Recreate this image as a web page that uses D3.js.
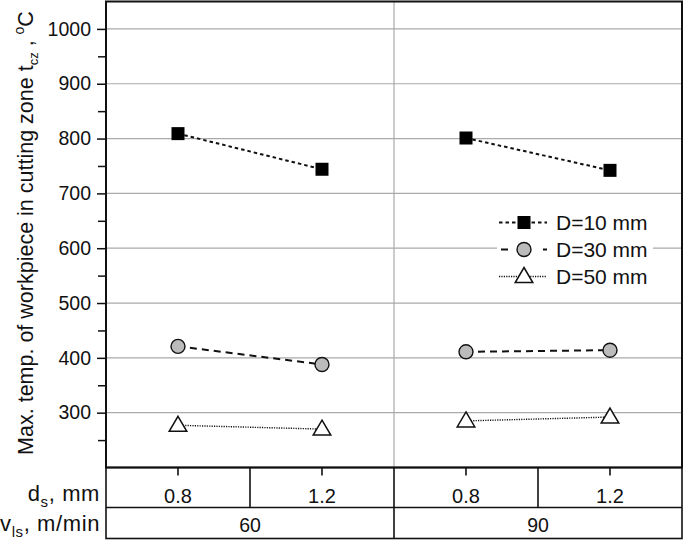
<!DOCTYPE html>
<html><head><meta charset="utf-8">
<script src="https://cdn.jsdelivr.net/npm/d3@7"></script>
<style>body{margin:0;background:#fff}svg{display:block}text{font-family:"Liberation Sans",Arial,sans-serif;fill:#111}</style>
</head><body><svg id="c" width="685" height="544"></svg>
<script>
const categories = ["60|0.8","60|1.2","90|0.8","90|1.2"];
const dsLabels = ["0.8","1.2","0.8","1.2"];
const vlsGroups = ["60","90"];
const seriesNames = ["D=10 mm","D=30 mm","D=50 mm"];
const d10 = [809, 744, 801, 742];
const d30 = [421, 388, 411, 414];
const d50 = [277, 270, 285, 292];
const yTicks = [300,400,500,600,700,800,900,1000];
const yMinor = [250,350,450,550,650,750,850,950];

const svg = d3.select("#c");
const L=106, R=682, T=1.5, B=467.5, R1=507.5, R2=538.5;
const x = d3.scaleBand().domain(categories).range([L,R]).padding(0);
const xc = c => x(c)+x.bandwidth()/2;
const y = d3.scaleLinear().domain([200,1050]).range([B,T]);

// grid
svg.append("g").selectAll("line").data(yTicks).join("line")
  .attr("x1",L).attr("x2",R).attr("y1",d=>y(d)).attr("y2",d=>y(d))
  .attr("stroke","#aaa").attr("stroke-width",1.2);
svg.append("line").attr("x1",x(categories[2])).attr("x2",x(categories[2]))
  .attr("y1",T).attr("y2",B).attr("stroke","#aaa").attr("stroke-width",1.2);

// y axis
const yAxis = d3.axisLeft(y).tickValues(yTicks).tickSize(9).tickPadding(6).tickFormat(d3.format("d"));
const ga = svg.append("g").attr("transform",`translate(${L},0)`).call(yAxis);
ga.select(".domain").remove();
ga.selectAll(".tick line").attr("stroke","#111").attr("stroke-width",1.5);
ga.selectAll(".tick text").attr("font-size",19.5).attr("fill","#111").style("font-family","Liberation Sans, Arial, sans-serif");
const gm = svg.append("g").attr("transform",`translate(${L},0)`).call(d3.axisLeft(y).tickValues(yMinor).tickSize(8).tickFormat(""));
gm.select(".domain").remove();
gm.selectAll(".tick line").attr("stroke","#111").attr("stroke-width",1.5);

// frame
svg.append("rect").attr("x",L).attr("y",T).attr("width",R-L).attr("height",B-T)
  .attr("fill","none").attr("stroke","#111").attr("stroke-width",2);

// table
const tb = svg.append("g").attr("stroke","#111").attr("stroke-width",1.6);
tb.append("rect").attr("x",L).attr("y",B).attr("width",R-L).attr("height",R2-B).attr("fill","none");
tb.append("line").attr("x1",L).attr("x2",R).attr("y1",R1).attr("y2",R1);
tb.append("line").attr("x1",x(categories[2])).attr("x2",x(categories[2])).attr("y1",B).attr("y2",R2);
[categories[1],categories[3]].forEach(c=>tb.append("line").attr("x1",x(c)).attr("x2",x(c)).attr("y1",B).attr("y2",R1));
categories.forEach(c=>tb.append("line").attr("x1",xc(c)).attr("x2",xc(c)).attr("y1",B).attr("y2",B+8));
categories.forEach((c,i)=>svg.append("text").attr("x",xc(c)).attr("y",503).attr("text-anchor","middle").attr("font-size",20).text(dsLabels[i]));
vlsGroups.forEach((g,i)=>svg.append("text").attr("x",(x(categories[i*2])+x(categories[i*2+1])+x.bandwidth())/2).attr("y",532).attr("text-anchor","middle").attr("font-size",19.5).text(g));
const rl1 = svg.append("text").attr("x",100).attr("y",501).attr("text-anchor","end").attr("font-size",22).attr("letter-spacing",0.6);
rl1.append("tspan").text("d");
rl1.append("tspan").attr("dy",6).attr("font-size",15).text("s");
rl1.append("tspan").attr("dy",-6).text(", mm");
const rl2 = svg.append("text").attr("x",100).attr("y",531).attr("text-anchor","end").attr("font-size",22).attr("letter-spacing",0.6);
rl2.append("tspan").text("v");
rl2.append("tspan").attr("dy",6).attr("font-size",15).text("ls");
rl2.append("tspan").attr("dy",-6).text(", m/min");

// y label
const yl = svg.append("text").attr("transform","translate(32.5,233) rotate(-90)").attr("text-anchor","middle").attr("font-size",21.5);
yl.append("tspan").text("Max. temp. of workpiece in cutting zone t");
yl.append("tspan").attr("dy",5).attr("font-size",13).text("cz");
yl.append("tspan").attr("dy",-5).text(" , ");
yl.append("tspan").attr("dy",-9).attr("font-size",14).text("o");
yl.append("tspan").attr("dy",9).text("C");

// series
const series = [
  {name:seriesNames[0], v:d10, dash:"3.5,3", w:2, sym:"square"},
  {name:seriesNames[1], v:d30, dash:"7,5", w:2, sym:"circle"},
  {name:seriesNames[2], v:d50, dash:"1.2,1.2", w:1.4, sym:"triangle"}
];
function drawSym(g, s, cx, cy){
  if(s==="square") g.append("rect").attr("x",cx-6.5).attr("y",cy-6.5).attr("width",13).attr("height",13).attr("fill","#000");
  else if(s==="circle") g.append("circle").attr("cx",cx).attr("cy",cy).attr("r",7).attr("fill","#bbb").attr("stroke","#111").attr("stroke-width",1.4);
  else g.append("path").attr("d",`M${cx},${cy-9}L${cx+8.8},${cy+6}L${cx-8.8},${cy+6}Z`).attr("fill","#fff").attr("stroke","#111").attr("stroke-width",1.5);
}
const line = d3.line().x(d=>xc(d.c)).y(d=>y(d.v));
series.forEach(s=>{
  const pts = categories.map((c,i)=>({c, v:s.v[i]}));
  [[pts[0],pts[1]],[pts[2],pts[3]]].forEach(seg=>{
    svg.append("path").attr("d",line(seg)).attr("fill","none").attr("stroke","#111")
      .attr("stroke-width",s.w).attr("stroke-dasharray",s.dash);
  });
});
series.forEach(s=>{
  const g = svg.append("g");
  categories.forEach((c,i)=>drawSym(g,s.sym,xc(c),y(s.v[i])));
});

// legend
const lg = svg.append("g");
lg.append("rect").attr("x",497).attr("y",207).attr("width",156).attr("height",80).attr("fill","#fff");
series.forEach((s,i)=>{
  const ly = 222.5 + i*27;
  lg.append("line").attr("x1",499).attr("x2",547).attr("y1",ly).attr("y2",ly).attr("stroke","#111")
    .attr("stroke-width",s.w).attr("stroke-dasharray", i===0?"3.5,3":(i===1?"7,14":"1.2,1.2"))
    .attr("stroke-dashoffset", i===1?-2:0);
  drawSym(lg,s.sym,524,ly);
  lg.append("text").attr("x",556).attr("y",ly+7).attr("font-size",21).text(s.name);
});
</script></body></html>
